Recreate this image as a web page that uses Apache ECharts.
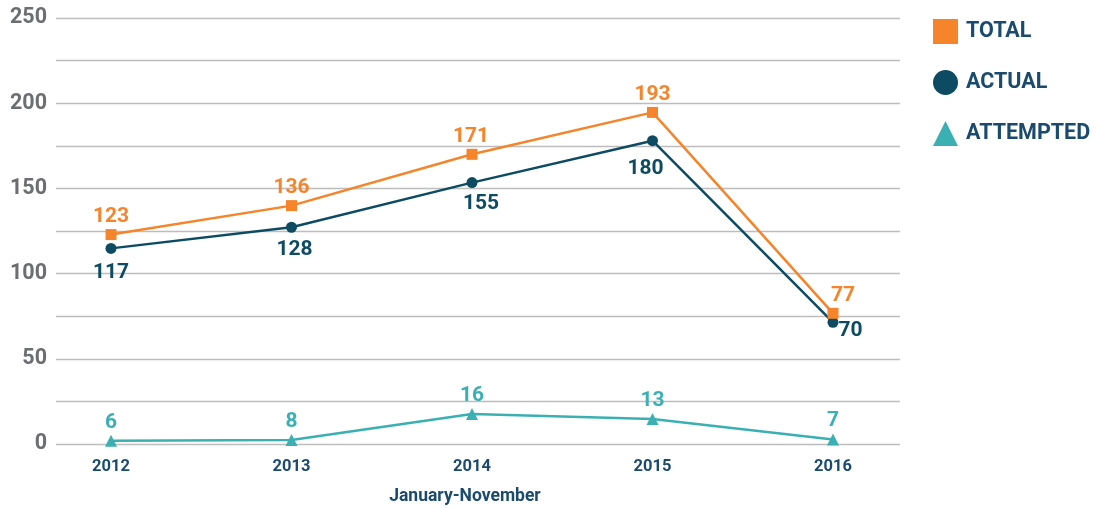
<!DOCTYPE html>
<html>
<head>
<meta charset="utf-8">
<script src="https://cdn.jsdelivr.net/npm/echarts@6/dist/echarts.min.js"></script>
<style>
html,body{margin:0;padding:0;background:#fff;}
#c{width:1103px;height:508px;}
</style>
</head>
<body>
<div id="c"></div>
<script>
var categories = ['2012', '2013', '2014', '2015', '2016'];
var totalValues = [122.9, 139.9, 170.0, 194.6, 76.7];
var totalLabels = ['123', '136', '171', '193', '77'];
var actualValues = [114.8, 127.2, 153.4, 178.0, 71.4];
var actualLabels = ['117', '128', '155', '180', '70'];
var attemptedValues = [1.9, 2.3, 17.6, 14.7, 2.7];
var attemptedLabels = ['6', '8', '16', '13', '7'];
var yTickLabels = ['0', '50', '100', '150', '200', '250'];
var xAxisTitle = 'January-November';

var ORANGE = '#F5842A', NAVY = '#0C4B62', TEAL = '#3AB0B3', TEXT = '#1A4A6E', GREY = '#6D6E71';
var FONT = 'Roboto';

function items(vals, labels, color, pos, dist, overrides) {
  return vals.map(function (v, i) {
    var lab = { show: true, position: pos, formatter: labels[i], color: color,
      fontFamily: FONT, fontWeight: 'bold', fontSize: 21, distance: dist };
    if (overrides && overrides[i]) Object.assign(lab, overrides[i]);
    return { value: v, label: lab };
  });
}

var chart = echarts.init(document.getElementById('c'));
chart.setOption({
  animation: false,
  grid: [
    { left: 56, right: 203, top: 18, bottom: 64 },
    { left: 20.75, right: 179.75, top: 18, bottom: 64 }
  ],
  xAxis: [
    { gridIndex: 0, type: 'category', data: categories, show: false },
    { gridIndex: 1, type: 'category', data: categories, boundaryGap: true,
      axisLine: { show: false }, axisTick: { show: false },
      axisLabel: { color: TEXT, fontFamily: FONT, fontWeight: 'bold', fontSize: 16.5, margin: 14 } }
  ],
  yAxis: [
    { gridIndex: 0, type: 'value', min: 0, max: 250, interval: 25,
      axisLine: { show: false }, axisTick: { show: false },
      splitLine: { lineStyle: { color: '#BDBDBD', width: 1.3 } },
      axisLabel: { color: GREY, fontFamily: FONT, fontWeight: 'bold', fontSize: 21.5, margin: 9,
        formatter: function (v) { var s = String(v); return yTickLabels.indexOf(s) >= 0 ? s : ''; } } },
    { gridIndex: 1, type: 'value', min: 0, max: 250, interval: 25, show: false, splitLine: { show: false } }
  ],
  legend: {
    orient: 'vertical', left: 928, top: 14, itemWidth: 25, itemHeight: 25, itemGap: 26,
    textStyle: { color: TEXT, fontFamily: FONT, fontWeight: 'bold', fontSize: 21.5, padding: [0, 0, 0, 3] },
    data: [
      { name: 'TOTAL', icon: 'rect' },
      { name: 'ACTUAL', icon: 'circle' },
      { name: 'ATTEMPTED', icon: 'triangle' }
    ]
  },
  graphic: [{
    type: 'text', x: 465, y: 497,
    style: { text: xAxisTitle, fill: TEXT, font: 'bold 17.5px ' + FONT, align: 'center', verticalAlign: 'middle' }
  }],
  series: [
    { name: 'ATTEMPTED', type: 'line', xAxisIndex: 1, yAxisIndex: 1,
      symbol: 'triangle', symbolSize: 12, color: TEAL,
      lineStyle: { width: 2.5, color: TEAL }, itemStyle: { color: TEAL },
      data: items(attemptedValues, attemptedLabels, TEAL, 'top', 2) },
    { name: 'ACTUAL', type: 'line', xAxisIndex: 1, yAxisIndex: 1,
      symbol: 'circle', symbolSize: 11, color: NAVY,
      lineStyle: { width: 2.5, color: NAVY }, itemStyle: { color: NAVY },
      data: items(actualValues, actualLabels, NAVY, 'bottom', 8, {
        1: { offset: [3, -2] },
        2: { offset: [9, -3] },
        3: { offset: [-7, 4] },
        4: { position: 'right', offset: [-4, 8], distance: 4 }
      }) },
    { name: 'TOTAL', type: 'line', xAxisIndex: 1, yAxisIndex: 1,
      symbol: 'rect', symbolSize: 11, color: ORANGE,
      lineStyle: { width: 2.5, color: ORANGE }, itemStyle: { color: ORANGE },
      data: items(totalValues, totalLabels, ORANGE, 'top', 2, {
        2: { offset: [-1, 0] },
        4: { offset: [10, 0] }
      }) }
  ]
});
</script>
</body>
</html>
